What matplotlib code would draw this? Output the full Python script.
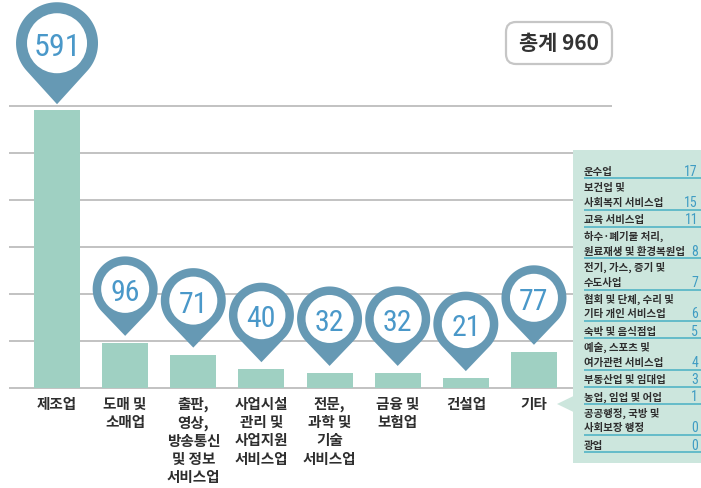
import numpy as np
import matplotlib
matplotlib.use("Agg")
import matplotlib.pyplot as plt
from matplotlib import font_manager as fm
from matplotlib.patches import Polygon, Circle, Rectangle, FancyBboxPatch
from matplotlib.transforms import ScaledTranslation

# ---------------- data ----------------
categories = ['제조업', '도매 및\n소매업', '출판,\n영상,\n방송통신\n및 정보\n서비스업',
              '사업시설\n관리 및\n사업지원\n서비스업', '전문,\n과학 및\n기술\n서비스업',
              '금융 및\n보험업', '건설업', '기타']
values = [591, 96, 71, 40, 32, 32, 21, 77]
total_label = '총계 960'

other_names = ['운수업', '보건업 및\n사회복지 서비스업', '교육 서비스업',
               '하수·폐기물 처리,\n원료재생 및 환경복원업', '전기, 가스, 증기 및\n수도사업',
               '협회 및 단체, 수리 및\n기타 개인 서비스업', '숙박 및 음식점업',
               '예술, 스포츠 및\n여가관련 서비스업', '부동산업 및 임대업',
               '농업, 임업 및 어업', '공공행정, 국방 및\n사회보장 행정', '광업']
other_values = [17, 15, 11, 8, 7, 6, 5, 4, 3, 1, 0, 0]

# ---------------- fonts ----------------
def pick(cands):
    for c in cands:
        try:
            fm.findfont(fm.FontProperties(family=c), fallback_to_default=False)
            return c
        except Exception:
            pass
    return 'DejaVu Sans'

KR = pick(['Noto Sans CJK KR', 'Noto Sans CJK SC'])
NUM = pick(['Liberation Sans Narrow', 'Roboto Condensed', 'Liberation Sans'])
plt.rcParams['font.family'] = [KR, 'DejaVu Sans']

BAR = '#9fd0c2'
PIN = '#6699b4'
NUMC = '#4a98c9'
PANEL = '#cce6dd'
LINE = '#52b4c6'
GRID = '#bdbdbd'
TXT = '#2e2e2e'

W, H = 701, 489
fig = plt.figure(figsize=(W / 100, H / 100), dpi=100)

# main axes: pixel box x 9..612, y 105..391 (0 at 389, 600 at 107)
ypx_per = 282 / 600
lo = -2 / ypx_per
hi = 600 + 2 / ypx_per
ax = fig.add_axes([9 / W, (H - 391) / H, (612 - 9) / W, (391 - 105) / H])
ax.set_ylim(lo, hi)
sp = 68.1
ax.set_xlim(-(57 - 9) / sp, 7 + (612 - 534) / sp)
ax.set_yticks(range(0, 601, 100))
ax.yaxis.grid(True, color=GRID, lw=1.3)
ax.set_axisbelow(True)
ax.tick_params(left=False, bottom=False, labelleft=False, labelbottom=False)
for s in ax.spines.values():
    s.set_visible(False)

x = np.arange(len(values))
ax.bar(x, values, width=46 / sp, color=BAR, zorder=2)

def pin(xi, yi, R, D, r, txt, fs):
    trans = fig.dpi_scale_trans + ScaledTranslation(xi, yi, ax.transData)
    phi = np.arccos(R / D)
    ang = np.linspace(-np.pi / 2 + phi, 3 * np.pi / 2 - phi, 80)
    pts = [(0, 0)] + [(R * np.cos(a), D + R * np.sin(a)) for a in ang]
    pts = np.array(pts) / 100.0
    ax.add_patch(Polygon(pts, closed=True, facecolor=PIN, edgecolor='none',
                         transform=trans, clip_on=False, zorder=5))
    ax.add_patch(Circle((0, D / 100), r / 100, facecolor='white', edgecolor='none',
                        transform=trans, clip_on=False, zorder=6))
    ax.text(0, D / 100, txt, transform=trans, ha='center', va='center_baseline',
            fontsize=fs, color=NUMC, family=NUM, clip_on=False, zorder=7)

gap = 7 / ypx_per
for i, v in enumerate(values):
    if i == 0:
        pin(i, v + 6 / ypx_per, 41, 61, 30, str(v), 23)
    else:
        pin(i, v + gap, 32.5, 47, 24, str(v), 21.5)

for i, lab in enumerate(categories):
    ax.annotate(lab, xy=(i, 0), xytext=(0, -5), textcoords='offset points',
                ha='center', va='top', fontsize=10.5, color=TXT, weight='bold',
                linespacing=1.17, annotation_clip=False)

# overlay in pixel coordinates
ov = fig.add_axes([0, 0, 1, 1], zorder=10)
ov.set_xlim(0, W)
ov.set_ylim(H, 0)
ov.axis('off')
ov.patch.set_alpha(0)

ov.add_patch(Rectangle((573, 151), W - 573, 464 - 151, facecolor=PANEL, edgecolor='none'))
ov.add_patch(Polygon([(557, 405), (573.5, 397), (573.5, 413)], closed=True,
                     facecolor=PANEL, edgecolor='none'))

yb = 162
for name, val in zip(other_names, other_values):
    n = name.count('\n') + 1
    h = 17 if n == 1 else 31.5
    yb += h
    lines = name.split('\n')
    if n == 1:
        ov.text(584, yb - 7.5, lines[0], ha='left', va='center', fontsize=7.5,
                color=TXT, weight='bold')
    else:
        ov.text(584, yb - 23, lines[0], ha='left', va='center', fontsize=7.5,
                color=TXT, weight='bold')
        ov.text(584, yb - 7.5, lines[1], ha='left', va='center', fontsize=7.5,
                color=TXT, weight='bold')
    ov.text(698, yb - 7.5, str(val), ha='right', va='center', fontsize=10,
            color='#3f9cc3', family=NUM)
    ov.plot([584, 701], [yb, yb], color=LINE, lw=1.2, solid_capstyle='butt')

ov.add_patch(FancyBboxPatch((506, 23), 106, 42, boxstyle='round,pad=0,rounding_size=10',
                            facecolor='white', edgecolor='#c6c6c6', lw=1.6))
ov.text(559, 44, total_label, ha='center', va='center', fontsize=15, weight='bold',
        color='#333333')

fig.savefig('out.png', dpi=100)
